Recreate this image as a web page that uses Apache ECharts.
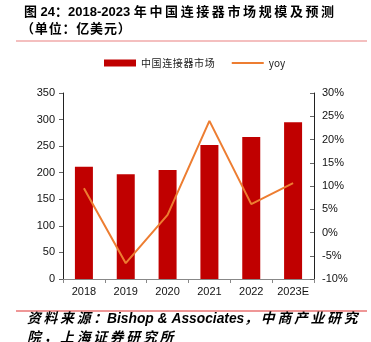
<!DOCTYPE html>
<html>
<head>
<meta charset="utf-8">
<script src="https://cdn.jsdelivr.net/npm/echarts@6/dist/echarts.min.js"></script>
<style>
  html, body { margin: 0; padding: 0; background: #fff; }
  #chart { width: 371px; height: 342px; }
</style>
</head>
<body>
<div id="chart"></div>
<script>
// China connector market size (USD 100m) and year-on-year growth
const years = ['2018', '2019', '2020', '2021', '2022', '2023E'];
const marketSize = [211, 197, 205, 252, 267, 295];
const yoyPct = [9.5, -6.6, 3.8, 24.0, 6.1, 10.6];

const leftTicks = { min: 0, max: 350, interval: 50 };
const rightTicks = { min: -10, max: 30, interval: 5 };

const titleLine1 = '图 24：2018-2023 年中国连接器市场规模及预测';
const titleLine2 = '（单位：亿美元）';
const sourceLine1 = '资料来源：Bishop & Associates，中商产业研究';
const sourceLine2 = '院，上海证券研究所';
const barName = '中国连接器市场';
const lineName = 'yoy';

const CJK = '"Noto Sans CJK SC", "Liberation Sans", sans-serif';
const MIXED = '"Liberation Sans", "Noto Sans CJK SC", sans-serif';
const SANS = '"Liberation Sans", Arial, sans-serif';

// Open up CJK text a little by placing a narrow space after each CJK glyph
function spaced(str, gap) {
  let out = '';
  const chars = Array.from(str);
  const isCJK = (c) => /[\u3000-\u9fff\uff00-\uffef]/.test(c);
  chars.forEach((c, i) => {
    out += c;
    const next = chars[i + 1];
    if (next && isCJK(c) && isCJK(next)) out += gap;
  });
  return out;
}

const chart = echarts.init(document.getElementById('chart'), null, { renderer: 'canvas' });

chart.setOption({
  backgroundColor: '#ffffff',
  animation: false,
  graphic: [
    { type: 'text', left: 24, top: 6,
      style: { text: spaced(titleLine1, '\u2009'), font: 'bold 13px ' + MIXED, fill: '#000' } },
    { type: 'text', left: 21, top: 22,
      style: { text: spaced(titleLine2, '\u200A'), font: 'bold 13px ' + CJK, fill: '#000' } },
    { type: 'line', shape: { x1: 16, y1: 41, x2: 367, y2: 41 },
      style: { stroke: '#e98080', lineWidth: 1.2 } },
    { type: 'line', shape: { x1: 16, y1: 311, x2: 367, y2: 311 },
      style: { stroke: '#e03030', lineWidth: 1.2 } },
    { type: 'text', left: 27, top: 312,
      style: { text: spaced(sourceLine1, '\u2009'), font: 'italic bold 13.8px ' + MIXED, fill: '#000' } },
    { type: 'text', left: 27, top: 331,
      style: { text: spaced(sourceLine2, '\u2009'), font: 'italic bold 13.8px ' + MIXED, fill: '#000' } }
  ],
  legend: {
    top: 58,
    left: 104,
    padding: 0,
    itemGap: 17,
    itemWidth: 32,
    itemHeight: 7,
    textStyle: { fontSize: 10, color: '#222', fontFamily: CJK },
    formatter: (name) => spaced(name, '\u200A'),
    data: [
      { name: barName, icon: 'rect' },
      { name: lineName, icon: 'path://M0,0 L32,0 L32,2 L0,2 Z', itemStyle: { color: '#ED7D31' } }
    ]
  },
  grid: { left: 63, right: 57, top: 93, bottom: 63, containLabel: false },
  xAxis: {
    type: 'category',
    data: years,
    axisLine: { lineStyle: { color: '#888', width: 1 } },
    axisTick: { show: true, alignWithLabel: false, length: 4, lineStyle: { color: '#888' } },
    axisLabel: { color: '#111', fontSize: 11, fontFamily: SANS, margin: 7 }
  },
  yAxis: [
    {
      type: 'value',
      min: leftTicks.min, max: leftTicks.max, interval: leftTicks.interval,
      axisLine: { show: true, lineStyle: { color: '#222' } },
      axisTick: { show: true, length: 4, lineStyle: { color: '#666' } },
      splitLine: { show: false },
      axisLabel: { color: '#111', fontSize: 11, fontFamily: SANS, margin: 8 }
    },
    {
      type: 'value',
      min: rightTicks.min, max: rightTicks.max, interval: rightTicks.interval,
      axisLine: { show: true, lineStyle: { color: '#222' } },
      axisTick: { show: true, inside: true, length: 4, lineStyle: { color: '#666' } },
      splitLine: { show: false },
      axisLabel: { color: '#111', fontSize: 11, fontFamily: SANS, margin: 8, formatter: '{value}%' }
    }
  ],
  series: [
    {
      name: barName,
      type: 'bar',
      yAxisIndex: 0,
      data: marketSize,
      barWidth: 18,
      itemStyle: { color: '#C00000' }
    },
    {
      name: lineName,
      type: 'line',
      yAxisIndex: 1,
      data: yoyPct,
      symbol: 'none',
      lineStyle: { color: '#ED7D31', width: 2 },
      itemStyle: { color: '#ED7D31' }
    }
  ]
});
</script>
</body>
</html>
